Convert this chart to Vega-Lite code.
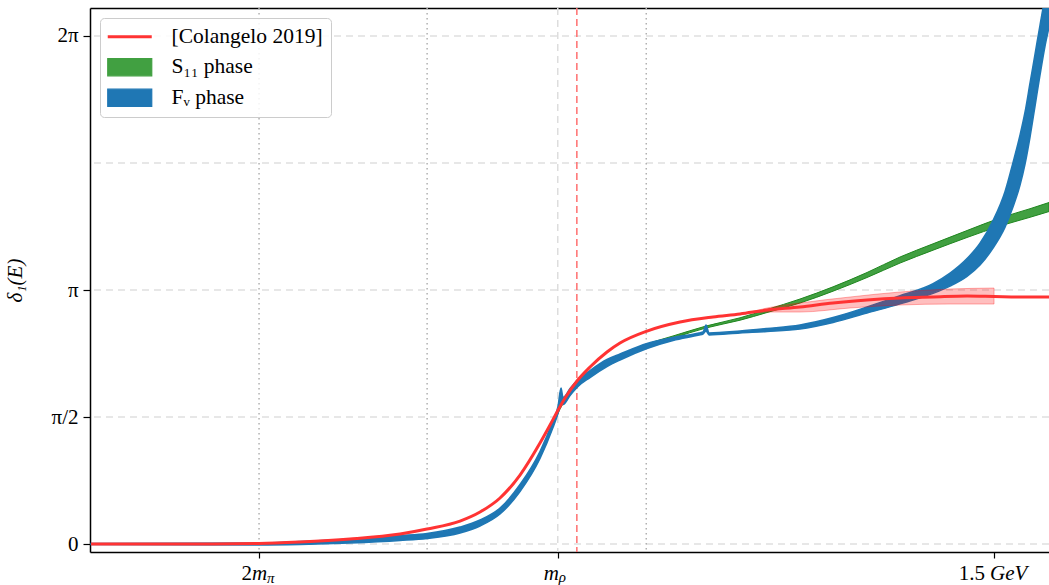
{
  "$schema": "https://vega.github.io/schema/vega-lite/v6.json",
  "autosize": {"type": "none"},
  "padding": {"left": 90, "top": 8, "right": 0, "bottom": 33},
  "width": 959,
  "height": 544,
  "background": "white",
  "config": {"view": {"stroke": null}},
  "datasets": {
    "hgrid": [{"g": 0}, {"g": 1.5708}, {"g": 3.1416}, {"g": 4.7124}, {"g": 6.2832}],
    "thresholds": [{"E": 0.2791}, {"E": 0.5583}, {"E": 0.9223}],
    "mrho": [{"E": 0.7753}],
    "refline": [{"E": 0.807}],
    "red": [
      {"E": 0, "d": 0}, {"E": 0.1811, "d": 0}, {"E": 0.2791, "d": 0.006}, {"E": 0.3472, "d": 0.025},
      {"E": 0.4302, "d": 0.062}, {"E": 0.5133, "d": 0.124}, {"E": 0.5581, "d": 0.186}, {"E": 0.613, "d": 0.284},
      {"E": 0.6462, "d": 0.396}, {"E": 0.6794, "d": 0.569}, {"E": 0.7126, "d": 0.853}, {"E": 0.7458, "d": 1.249},
      {"E": 0.7625, "d": 1.472}, {"E": 0.7741, "d": 1.633}, {"E": 0.7874, "d": 1.806}, {"E": 0.8073, "d": 2.016},
      {"E": 0.8289, "d": 2.189}, {"E": 0.8571, "d": 2.375}, {"E": 0.8787, "d": 2.486}, {"E": 0.9236, "d": 2.634},
      {"E": 0.9784, "d": 2.746}, {"E": 1.0332, "d": 2.808}, {"E": 1.0781, "d": 2.845}, {"E": 1.1229, "d": 2.894},
      {"E": 1.1777, "d": 2.931}, {"E": 1.2326, "d": 2.981}, {"E": 1.289, "d": 3.018}, {"E": 1.3439, "d": 3.043},
      {"E": 1.3987, "d": 3.055}, {"E": 1.4551, "d": 3.067}, {"E": 1.5, "d": 3.061}, {"E": 1.5432, "d": 3.055},
      {"E": 1.5914, "d": 3.055}
    ],
    "redband": [
      {"E": 1.0831, "lo": 2.845, "hi": 2.845}, {"E": 1.1229, "lo": 2.869, "hi": 2.919},
      {"E": 1.1777, "lo": 2.869, "hi": 2.981}, {"E": 1.2608, "lo": 2.919, "hi": 3.055},
      {"E": 1.3439, "lo": 2.956, "hi": 3.117}, {"E": 1.4269, "lo": 2.968, "hi": 3.154},
      {"E": 1.5, "lo": 2.968, "hi": 3.166}
    ],
    "green": [
      {"E": 0.2791, "lo": -0.006, "hi": 0.006}, {"E": 0.3472, "lo": 0, "hi": 0.025},
      {"E": 0.4302, "lo": 0.025, "hi": 0.049}, {"E": 0.5133, "lo": 0.062, "hi": 0.087},
      {"E": 0.5581, "lo": 0.087, "hi": 0.111}, {"E": 0.613, "lo": 0.161, "hi": 0.186},
      {"E": 0.6462, "lo": 0.247, "hi": 0.272}, {"E": 0.6794, "lo": 0.396, "hi": 0.421},
      {"E": 0.7126, "lo": 0.668, "hi": 0.693}, {"E": 0.7458, "lo": 1.076, "hi": 1.101},
      {"E": 0.7674, "lo": 1.459, "hi": 1.484}, {"E": 0.7791, "lo": 1.67, "hi": 1.694},
      {"E": 0.7957, "lo": 1.843, "hi": 1.868}, {"E": 0.8073, "lo": 1.942, "hi": 1.967},
      {"E": 0.8289, "lo": 2.078, "hi": 2.103}, {"E": 0.8571, "lo": 2.226, "hi": 2.251},
      {"E": 0.8787, "lo": 2.313, "hi": 2.338}, {"E": 0.9236, "lo": 2.449, "hi": 2.474},
      {"E": 0.9668, "lo": 2.548, "hi": 2.573}, {"E": 1.0216, "lo": 2.672, "hi": 2.696},
      {"E": 1.0781, "lo": 2.768, "hi": 2.798}, {"E": 1.1229, "lo": 2.863, "hi": 2.9},
      {"E": 1.1777, "lo": 2.981, "hi": 3.03}, {"E": 1.2326, "lo": 3.127, "hi": 3.181},
      {"E": 1.289, "lo": 3.296, "hi": 3.358}, {"E": 1.3439, "lo": 3.475, "hi": 3.55},
      {"E": 1.3987, "lo": 3.634, "hi": 3.713}, {"E": 1.4551, "lo": 3.791, "hi": 3.877},
      {"E": 1.51, "lo": 3.933, "hi": 4.032}, {"E": 1.5598, "lo": 4.041, "hi": 4.147},
      {"E": 1.5914, "lo": 4.112, "hi": 4.224}
    ],
    "blue": [
      {"E": 0, "lo": -0.006, "hi": 0.006}, {"E": 0.2791, "lo": -0.012, "hi": 0.012},
      {"E": 0.3472, "lo": -0.006, "hi": 0.031}, {"E": 0.4302, "lo": 0.012, "hi": 0.062},
      {"E": 0.5133, "lo": 0.043, "hi": 0.105}, {"E": 0.5581, "lo": 0.068, "hi": 0.13},
      {"E": 0.613, "lo": 0.136, "hi": 0.21}, {"E": 0.6462, "lo": 0.223, "hi": 0.297},
      {"E": 0.6794, "lo": 0.371, "hi": 0.445}, {"E": 0.7126, "lo": 0.649, "hi": 0.736},
      {"E": 0.7458, "lo": 1.057, "hi": 1.144}, {"E": 0.7674, "lo": 1.441, "hi": 1.527},
      {"E": 0.7757, "lo": 1.614, "hi": 1.701}, {"E": 0.7807, "lo": 1.744, "hi": 1.929},
      {"E": 0.7841, "lo": 1.725, "hi": 1.812}, {"E": 0.7957, "lo": 1.837, "hi": 1.923},
      {"E": 0.8073, "lo": 1.936, "hi": 2.022}, {"E": 0.8289, "lo": 2.059, "hi": 2.146},
      {"E": 0.8571, "lo": 2.195, "hi": 2.282}, {"E": 0.8787, "lo": 2.276, "hi": 2.35},
      {"E": 0.9236, "lo": 2.418, "hi": 2.48}, {"E": 0.9668, "lo": 2.517, "hi": 2.554},
      {"E": 1.01, "lo": 2.585, "hi": 2.61}, {"E": 1.0166, "lo": 2.597, "hi": 2.622},
      {"E": 1.0216, "lo": 2.634, "hi": 2.709}, {"E": 1.0266, "lo": 2.585, "hi": 2.61},
      {"E": 1.0781, "lo": 2.61, "hi": 2.634}, {"E": 1.1229, "lo": 2.628, "hi": 2.665},
      {"E": 1.1777, "lo": 2.659, "hi": 2.709}, {"E": 1.2326, "lo": 2.74, "hi": 2.801},
      {"E": 1.289, "lo": 2.857, "hi": 2.931}, {"E": 1.3439, "lo": 2.97, "hi": 3.07},
      {"E": 1.3987, "lo": 3.1, "hi": 3.22}, {"E": 1.4269, "lo": 3.19, "hi": 3.35},
      {"E": 1.4551, "lo": 3.31, "hi": 3.53}, {"E": 1.4767, "lo": 3.45, "hi": 3.72},
      {"E": 1.4983, "lo": 3.66, "hi": 4.0}, {"E": 1.5183, "lo": 3.92, "hi": 4.36},
      {"E": 1.5316, "lo": 4.17, "hi": 4.72}, {"E": 1.5432, "lo": 4.44, "hi": 5.059},
      {"E": 1.5515, "lo": 4.7, "hi": 5.343}, {"E": 1.5598, "lo": 5.034, "hi": 5.702},
      {"E": 1.5681, "lo": 5.417, "hi": 6.06}, {"E": 1.5764, "lo": 5.801, "hi": 6.419},
      {"E": 1.5847, "lo": 6.159, "hi": 6.753}, {"E": 1.5914, "lo": 6.394, "hi": 6.939}
    ]
  },
  "resolve": {"axis": {"x": "independent"}},
  "layer": [
    {
      "data": {"name": "hgrid"},
      "mark": {"type": "rule", "color": "#e0e0e0", "strokeWidth": 1.5, "strokeDash": [7, 5]},
      "encoding": {
        "y": {
          "field": "g", "type": "quantitative",
          "scale": {"domain": [-0.0989, 6.6295], "nice": false, "zero": false},
          "axis": {
            "values": [0, 1.5708, 3.1416, 6.2832],
            "labelExpr": "datum.value < 0.1 ? '0' : datum.value < 2 ? 'π/2' : datum.value < 4 ? 'π' : '2π'",
            "grid": false, "domainColor": "black", "domainWidth": 1.5,
            "tickColor": "black", "tickSize": 7, "tickWidth": 1.2,
            "labelFont": "Liberation Serif", "labelFontSize": 21, "labelColor": "black", "labelPadding": 5,
            "title": "δ₁(E)", "titleFont": "Liberation Serif", "titleFontSize": 21, "titleFontStyle": "italic",
            "titleFontWeight": "normal", "titleColor": "black", "titlePadding": 26
          }
        }
      }
    },
    {
      "data": {"name": "thresholds"},
      "mark": {"type": "rule", "color": "#b0b0b0", "strokeWidth": 1.5, "strokeDash": [1.5, 3.5]},
      "encoding": {
        "x": {
          "field": "E", "type": "quantitative",
          "scale": {"domain": [-0.0017, 1.5913], "nice": false, "zero": false},
          "axis": {
            "orient": "bottom", "values": [0.2791, 0.7753, 1.5], "labels": false, "grid": false,
            "domainColor": "black", "domainWidth": 1.5, "tickColor": "black", "tickSize": 6, "tickWidth": 1.2,
            "title": null
          }
        }
      }
    },
    {
      "data": {"name": "mrho"},
      "mark": {"type": "rule", "color": "#dddddd", "strokeWidth": 1.5, "strokeDash": [7, 5]},
      "encoding": {
        "x": {
          "field": "E", "type": "quantitative",
          "axis": {"orient": "top", "ticks": false, "labels": false, "grid": false,
                   "domainColor": "black", "domainWidth": 1.5, "title": null}
        }
      }
    },
    {
      "data": {"name": "refline"},
      "mark": {"type": "rule", "color": "#ff7070", "strokeWidth": 1.5, "strokeDash": [7, 4]},
      "encoding": {"x": {"field": "E", "type": "quantitative", "axis": null}}
    },
    {
      "data": {"name": "green"},
      "mark": {"type": "area", "interpolate": "monotone", "stroke": "#1f861f", "strokeWidth": 1, "clip": true},
      "encoding": {
        "x": {"field": "E", "type": "quantitative", "axis": null},
        "y": {"field": "lo", "type": "quantitative"},
        "y2": {"field": "hi"},
        "color": {
          "datum": "S₁₁ phase",
          "scale": {
            "domain": ["[Colangelo 2019]", "S₁₁ phase", "Fᵥ phase"],
            "range": ["#ff3333", "#41a041", "#1f77b4"]
          },
          "legend": {
            "orient": "none", "legendX": 10, "legendY": 10, "title": null,
            "padding": 8, "rowPadding": 7.5, "symbolSize": 484, "symbolOffset": 11, "labelOffset": 31,
            "symbolType": {"expr": "datum.value === '[Colangelo 2019]' ? 'M-2,0H2' : 'M-2,-0.78H2V0.78H-2Z'"},
            "symbolStrokeColor": {"expr": "datum.value === '[Colangelo 2019]' ? '#ff4444' : datum.value === 'S₁₁ phase' ? '#1f861f' : '#1f77b4'"},
            "symbolStrokeWidth": {"expr": "datum.value === '[Colangelo 2019]' ? 3 : 1.2"},
            "labelFont": "Liberation Serif", "labelFontSize": 21.5, "labelColor": "black",
            "strokeColor": "#cccccc", "fillColor": "rgba(255,255,255,0.85)", "cornerRadius": 4
          }
        }
      }
    },
    {
      "data": {"name": "blue"},
      "mark": {"type": "area", "interpolate": "monotone", "stroke": "#1f77b4", "strokeWidth": 1.5, "clip": true},
      "encoding": {
        "x": {"field": "E", "type": "quantitative", "axis": null},
        "y": {"field": "lo", "type": "quantitative"},
        "y2": {"field": "hi"},
        "color": {"datum": "Fᵥ phase", "legend": null}
      }
    },
    {
      "data": {"name": "redband"},
      "mark": {"type": "area", "interpolate": "monotone", "color": "#ff0000", "fillOpacity": 0.25,
               "stroke": "#ff0000", "strokeOpacity": 0.3, "strokeWidth": 1, "clip": true},
      "encoding": {
        "x": {"field": "E", "type": "quantitative", "axis": null},
        "y": {"field": "lo", "type": "quantitative"},
        "y2": {"field": "hi"}
      }
    },
    {
      "data": {"name": "red"},
      "mark": {"type": "line", "interpolate": "monotone", "strokeWidth": 3, "clip": true},
      "encoding": {
        "x": {"field": "E", "type": "quantitative", "axis": null},
        "y": {"field": "d", "type": "quantitative"},
        "color": {"datum": "[Colangelo 2019]", "legend": null}
      }
    },
    {
      "data": {"values": [{}]},
      "mark": {"type": "text", "text": "2", "align": "right", "baseline": "alphabetic", "dx": -7, "dy": 28,
               "font": "Liberation Serif", "fontSize": 21, "color": "black"},
      "encoding": {"x": {"datum": 0.2791, "type": "quantitative", "axis": null}, "y": {"datum": -0.0989, "type": "quantitative"}}
    },
    {
      "data": {"values": [{}]},
      "mark": {"type": "text", "text": "m", "align": "left", "baseline": "alphabetic", "dx": -7, "dy": 28,
               "font": "Liberation Serif", "fontStyle": "italic", "fontSize": 21, "color": "black"},
      "encoding": {"x": {"datum": 0.2791, "type": "quantitative", "axis": null}, "y": {"datum": -0.0989, "type": "quantitative"}}
    },
    {
      "data": {"values": [{}]},
      "mark": {"type": "text", "text": "π", "align": "left", "baseline": "alphabetic", "dx": 8, "dy": 31,
               "font": "Liberation Serif", "fontStyle": "italic", "fontSize": 15, "color": "black"},
      "encoding": {"x": {"datum": 0.2791, "type": "quantitative", "axis": null}, "y": {"datum": -0.0989, "type": "quantitative"}}
    },
    {
      "data": {"values": [{}]},
      "mark": {"type": "text", "text": "m", "align": "left", "baseline": "alphabetic", "dx": -14, "dy": 28,
               "font": "Liberation Serif", "fontStyle": "italic", "fontSize": 21, "color": "black"},
      "encoding": {"x": {"datum": 0.7753, "type": "quantitative", "axis": null}, "y": {"datum": -0.0989, "type": "quantitative"}}
    },
    {
      "data": {"values": [{}]},
      "mark": {"type": "text", "text": "ρ", "align": "left", "baseline": "alphabetic", "dx": 1, "dy": 30,
               "font": "Liberation Serif", "fontStyle": "italic", "fontSize": 15, "color": "black"},
      "encoding": {"x": {"datum": 0.7753, "type": "quantitative", "axis": null}, "y": {"datum": -0.0989, "type": "quantitative"}}
    },
    {
      "data": {"values": [{}]},
      "mark": {"type": "text", "text": "1.5", "align": "right", "baseline": "alphabetic", "dx": -9, "dy": 28,
               "font": "Liberation Serif", "fontSize": 21, "color": "black"},
      "encoding": {"x": {"datum": 1.5, "type": "quantitative", "axis": null}, "y": {"datum": -0.0989, "type": "quantitative"}}
    },
    {
      "data": {"values": [{}]},
      "mark": {"type": "text", "text": "GeV", "align": "left", "baseline": "alphabetic", "dx": -4, "dy": 28,
               "font": "Liberation Serif", "fontStyle": "italic", "fontSize": 21, "color": "black"},
      "encoding": {"x": {"datum": 1.5, "type": "quantitative", "axis": null}, "y": {"datum": -0.0989, "type": "quantitative"}}
    }
  ]
}
